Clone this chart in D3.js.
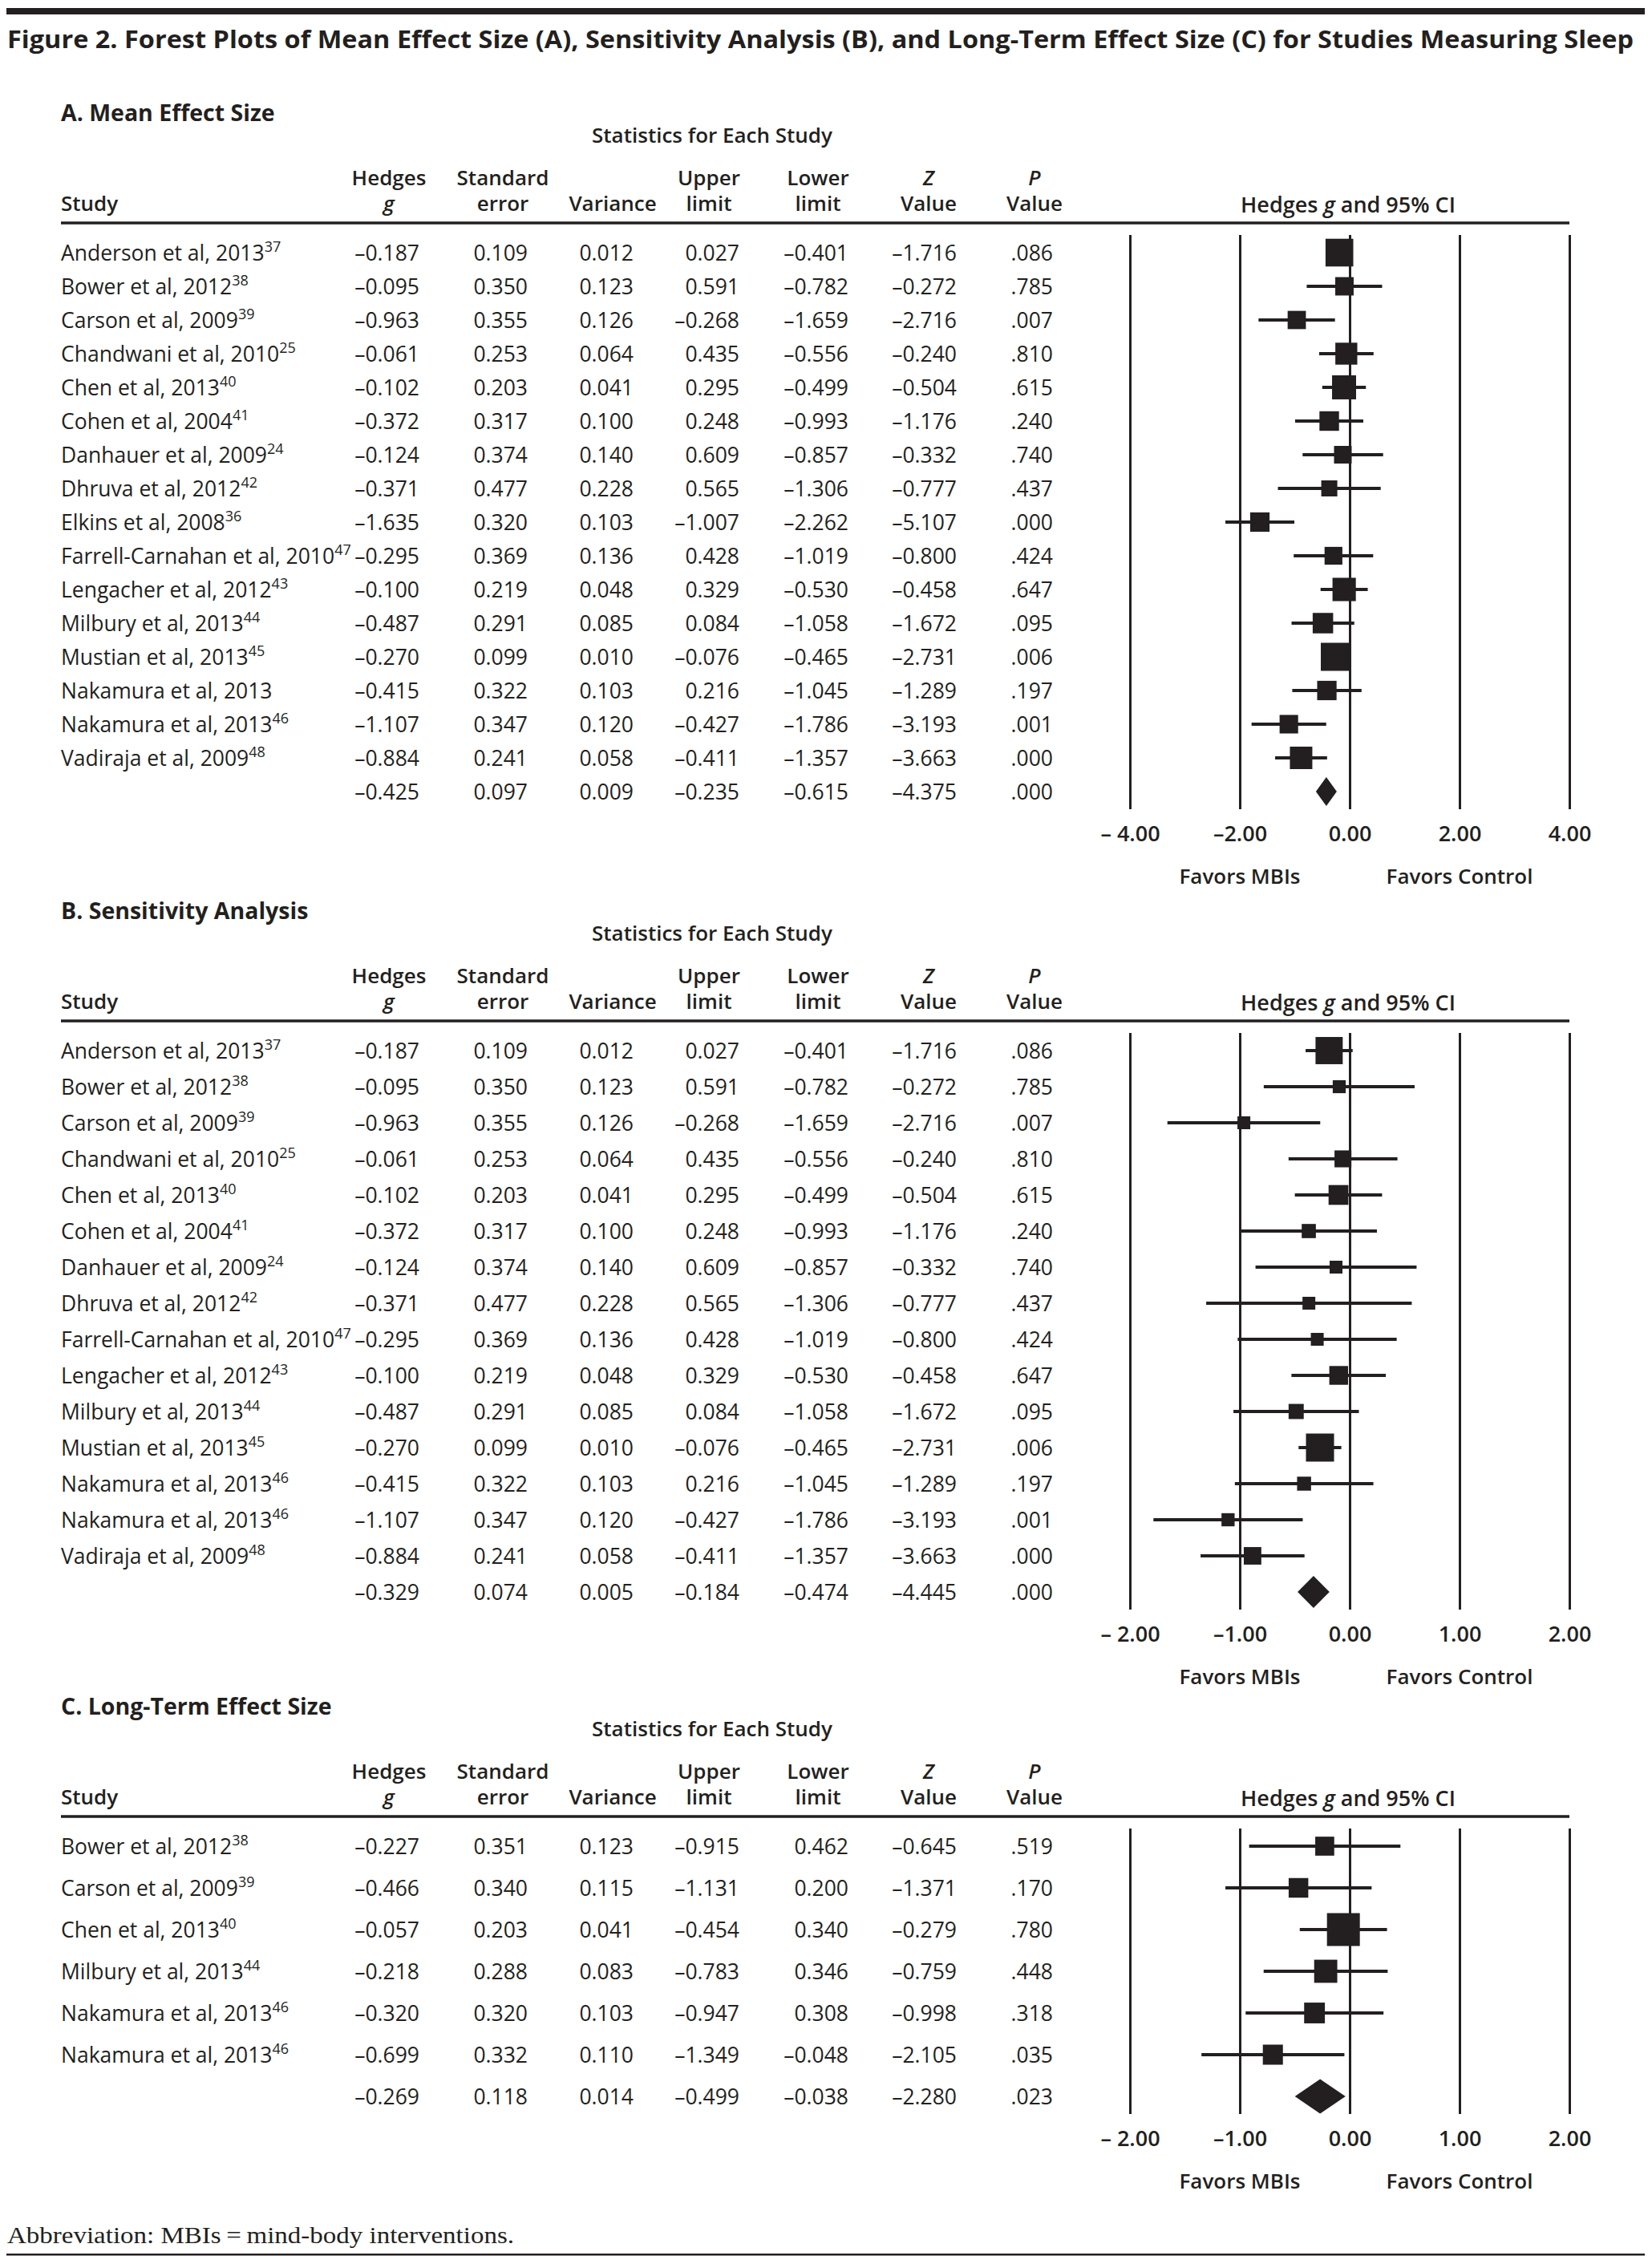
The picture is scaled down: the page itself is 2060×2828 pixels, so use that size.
<!DOCTYPE html>
<html><head><meta charset="utf-8">
<script src="https://cdn.jsdelivr.net/npm/d3@7"></script>
<style>
html,body{margin:0;padding:0;background:#fff;}
svg{display:block;}
</style></head><body>
<svg id="chart" width="2060" height="2828"></svg>
<script>
// ---------------- DATA ----------------
const figureTitle = "Figure 2. Forest Plots of Mean Effect Size (A), Sensitivity Analysis (B), and Long-Term Effect Size (C) for Studies Measuring Sleep";
const footnote = "Abbreviation: MBIs\u2009=\u2009mind-body interventions.";
const favorsLabels = ["Favors MBIs", "Favors Control"];

// Panel A: Mean effect size (last entry of each value array = summary row)
const studiesA = ["Anderson et al, 2013","Bower et al, 2012","Carson et al, 2009","Chandwani et al, 2010","Chen et al, 2013","Cohen et al, 2004","Danhauer et al, 2009","Dhruva et al, 2012","Elkins et al, 2008","Farrell-Carnahan et al, 2010","Lengacher et al, 2012","Milbury et al, 2013","Mustian et al, 2013","Nakamura et al, 2013","Nakamura et al, 2013","Vadiraja et al, 2009"];
const refsA = ["37","38","39","25","40","41","24","42","36","47","43","44","45","","46","48"];
const gA     = [-0.187,-0.095,-0.963,-0.061,-0.102,-0.372,-0.124,-0.371,-1.635,-0.295,-0.100,-0.487,-0.270,-0.415,-1.107,-0.884,-0.425];
const seA    = [0.109,0.350,0.355,0.253,0.203,0.317,0.374,0.477,0.320,0.369,0.219,0.291,0.099,0.322,0.347,0.241,0.097];
const varA   = [0.012,0.123,0.126,0.064,0.041,0.100,0.140,0.228,0.103,0.136,0.048,0.085,0.010,0.103,0.120,0.058,0.009];
const upperA = [0.027,0.591,-0.268,0.435,0.295,0.248,0.609,0.565,-1.007,0.428,0.329,0.084,-0.076,0.216,-0.427,-0.411,-0.235];
const lowerA = [-0.401,-0.782,-1.659,-0.556,-0.499,-0.993,-0.857,-1.306,-2.262,-1.019,-0.530,-1.058,-0.465,-1.045,-1.786,-1.357,-0.615];
const zA     = [-1.716,-0.272,-2.716,-0.240,-0.504,-1.176,-0.332,-0.777,-5.107,-0.800,-0.458,-1.672,-2.731,-1.289,-3.193,-3.663,-4.375];
const pA     = [0.086,0.785,0.007,0.810,0.615,0.240,0.740,0.437,0.000,0.424,0.647,0.095,0.006,0.197,0.001,0.000,0.000];
const ticksA = [-4,-2,0,2,4];
const tickLabelsA = ["\u2013 4.00","\u20132.00","0.00","2.00","4.00"];

// Panel B: Sensitivity analysis
const studiesB = ["Anderson et al, 2013","Bower et al, 2012","Carson et al, 2009","Chandwani et al, 2010","Chen et al, 2013","Cohen et al, 2004","Danhauer et al, 2009","Dhruva et al, 2012","Farrell-Carnahan et al, 2010","Lengacher et al, 2012","Milbury et al, 2013","Mustian et al, 2013","Nakamura et al, 2013","Nakamura et al, 2013","Vadiraja et al, 2009"];
const refsB = ["37","38","39","25","40","41","24","42","47","43","44","45","46","46","48"];
const gB     = [-0.187,-0.095,-0.963,-0.061,-0.102,-0.372,-0.124,-0.371,-0.295,-0.100,-0.487,-0.270,-0.415,-1.107,-0.884,-0.329];
const seB    = [0.109,0.350,0.355,0.253,0.203,0.317,0.374,0.477,0.369,0.219,0.291,0.099,0.322,0.347,0.241,0.074];
const varB   = [0.012,0.123,0.126,0.064,0.041,0.100,0.140,0.228,0.136,0.048,0.085,0.010,0.103,0.120,0.058,0.005];
const upperB = [0.027,0.591,-0.268,0.435,0.295,0.248,0.609,0.565,0.428,0.329,0.084,-0.076,0.216,-0.427,-0.411,-0.184];
const lowerB = [-0.401,-0.782,-1.659,-0.556,-0.499,-0.993,-0.857,-1.306,-1.019,-0.530,-1.058,-0.465,-1.045,-1.786,-1.357,-0.474];
const zB     = [-1.716,-0.272,-2.716,-0.240,-0.504,-1.176,-0.332,-0.777,-0.800,-0.458,-1.672,-2.731,-1.289,-3.193,-3.663,-4.445];
const pB     = [0.086,0.785,0.007,0.810,0.615,0.240,0.740,0.437,0.424,0.647,0.095,0.006,0.197,0.001,0.000,0.000];
const ticksB = [-2,-1,0,1,2];
const tickLabelsB = ["\u2013 2.00","\u20131.00","0.00","1.00","2.00"];

// Panel C: Long-term effect size
const studiesC = ["Bower et al, 2012","Carson et al, 2009","Chen et al, 2013","Milbury et al, 2013","Nakamura et al, 2013","Nakamura et al, 2013"];
const refsC = ["38","39","40","44","46","46"];
const gC     = [-0.227,-0.466,-0.057,-0.218,-0.320,-0.699,-0.269];
const seC    = [0.351,0.340,0.203,0.288,0.320,0.332,0.118];
const varC   = [0.123,0.115,0.041,0.083,0.103,0.110,0.014];
const upperC = [-0.915,-1.131,-0.454,-0.783,-0.947,-1.349,-0.499];
const lowerC = [0.462,0.200,0.340,0.346,0.308,-0.048,-0.038];
const zC     = [-0.645,-1.371,-0.279,-0.759,-0.998,-2.105,-2.280];
const pC     = [0.519,0.170,0.780,0.448,0.318,0.035,0.023];
const ticksC = [-2,-1,0,1,2];
const tickLabelsC = ["\u2013 2.00","\u20131.00","0.00","1.00","2.00"];

const panelTitles = ["A. Mean Effect Size","B. Sensitivity Analysis","C. Long-Term Effect Size"];
const statsHeader = "Statistics for Each Study";

// ---------------- LAYOUT / STYLE ----------------
const INK = "#231f20";
const FONT = "'Open Sans', 'Noto Sans', sans-serif";
const svg = d3.select("#chart");
const TABLE_L = 76, PLOT_L = 1409, PLOT_R = 1957;
const colRight = [523, 658, 790, 922, 1058, 1193, 1313];
const colCenter = [485, 627, 764, 884, 1020, 1158, 1290];
const BODY = 26.5;

const fmt3 = d => d3.format(".3f")(d).replace(/[\u2212-]/, "\u2013");
const fmtP = d => d3.format(".3f")(d).replace(/^0/, "");

// top rule + title
svg.append("rect").attr("x", 8).attr("y", 10).attr("width", 2043).attr("height", 8).attr("fill", INK);
svg.append("text").attr("x", 9).attr("y", 60)
  .attr("font-family", FONT).attr("font-weight", 700).attr("font-size", 31).attr("fill", INK)
  .attr("textLength", 2028).attr("lengthAdjust", "spacingAndGlyphs")
  .text(figureTitle);

function dlTau2(g, v) {
  const w = v.map(d => 1 / d);
  const W = d3.sum(w);
  const m = d3.sum(g, (d, i) => w[i] * d) / W;
  const Q = d3.sum(g, (d, i) => w[i] * (d - m) * (d - m));
  const C = W - d3.sum(w, d => d * d) / W;
  return Math.max(0, (Q - (g.length - 1)) / C);
}

function drawPanel(cfg) {
  const n = cfg.studies.length;
  const g = svg.append("g");
  const U = cfg.underlineY;
  const y = d3.scalePoint().domain(d3.range(n + 1)).range([cfg.firstRowY, cfg.firstRowY + n * cfg.step]);
  const x = d3.scaleLinear().domain([cfg.ticks[0], cfg.ticks[cfg.ticks.length - 1]]).range([PLOT_L, PLOT_R]);

  const txt = (sel) => sel.attr("font-family", FONT).attr("fill", INK);

  // panel title, headers
  g.append("text").call(txt).attr("x", TABLE_L).attr("y", U - 127).attr("font-size", 28.5).attr("font-weight", 700).text(cfg.title);
  g.append("text").call(txt).attr("x", 888).attr("y", U - 100).attr("text-anchor", "middle").attr("font-size", 26).attr("font-weight", 600).text(statsHeader);

  const hdr1 = ["Hedges", "Standard", "", "Upper", "Lower", "Z", "P"];
  const hdr2 = ["g", "error", "Variance", "limit", "limit", "Value", "Value"];
  const ital1 = [false, false, false, false, false, true, true];
  const ital2 = [true, false, false, false, false, false, false];
  hdr1.forEach((h, i) => {
    if (!h) return;
    g.append("text").call(txt).attr("x", colCenter[i]).attr("y", U - 47).attr("text-anchor", "middle")
      .attr("font-size", 26).attr("font-weight", 600).attr("font-style", ital1[i] ? "italic" : "normal").text(h);
  });
  hdr2.forEach((h, i) => {
    g.append("text").call(txt).attr("x", colCenter[i]).attr("y", U - 15).attr("text-anchor", "middle")
      .attr("font-size", 26).attr("font-weight", 600).attr("font-style", ital2[i] ? "italic" : "normal").text(h);
  });
  g.append("text").call(txt).attr("x", TABLE_L).attr("y", U - 15).attr("font-size", 26).attr("font-weight", 600).text("Study");
  const ci = g.append("text").call(txt).attr("x", (PLOT_L + PLOT_R) / 2 - 2).attr("y", U - 13).attr("text-anchor", "middle")
    .attr("font-size", 27).attr("font-weight", 600);
  ci.append("tspan").text("Hedges ");
  ci.append("tspan").attr("font-style", "italic").text("g");
  ci.append("tspan").text(" and 95% CI");

  g.append("line").attr("x1", TABLE_L).attr("x2", PLOT_R).attr("y1", U).attr("y2", U)
    .attr("stroke", INK).attr("stroke-width", 3.5);

  // study names with superscript refs
  const names = g.selectAll("text.study").data(cfg.studies).join("text").attr("class", "study").call(txt)
    .attr("x", TABLE_L).attr("y", (d, i) => y(i) + 10).attr("font-size", BODY);
  names.append("tspan").text(d => d);
  names.append("tspan").attr("dy", -11).attr("font-size", 18).text((d, i) => cfg.refs[i]);

  // numeric columns
  const cols = [
    cfg.g.map(fmt3), cfg.se.map(fmt3), cfg.variance.map(fmt3), cfg.upper.map(fmt3),
    cfg.lower.map(fmt3), cfg.z.map(fmt3), cfg.p.map(fmtP)
  ];
  cols.forEach((vals, ci2) => {
    g.selectAll(null).data(vals).join("text").call(txt)
      .attr("x", colRight[ci2]).attr("y", (d, i) => y(i) + 10).attr("text-anchor", "end").attr("font-size", BODY)
      .text(d => d);
  });

  // forest plot axis/gridlines
  const lineTop = U + 15, lineBottom = y(n) + 22;
  const axis = d3.axisBottom(x).tickValues(cfg.ticks).tickSize(-(lineBottom - lineTop)).tickPadding(21)
    .tickFormat((d, i) => cfg.tickLabels[i]);
  const ag = g.append("g").attr("transform", `translate(0,${lineBottom})`).call(axis)
    .attr("font-family", FONT).attr("font-size", 27).attr("font-weight", 600);
  ag.select(".domain").remove();
  ag.selectAll(".tick line").attr("stroke", INK).attr("stroke-width", 3);
  ag.selectAll(".tick text").attr("fill", INK);

  favorsLabels.forEach((lab, i) => {
    g.append("text").call(txt).attr("x", x(cfg.favorsAt[i])).attr("y", lineBottom + 93).attr("text-anchor", "middle")
      .attr("font-size", 26).attr("font-weight", 600).text(lab);
  });

  // weights -> square size
  const gs = cfg.g.slice(0, n), vs = cfg.variance.slice(0, n);
  const tau2 = dlTau2(gs, vs);
  const w = vs.map(v => 1 / (v + tau2));
  const side = d3.scaleSqrt().domain([0, d3.max(w)]).range([0, cfg.maxSide]);

  const rows = d3.range(n).map(i => ({
    i, g: cfg.g[i], lo: Math.min(cfg.upper[i], cfg.lower[i]), hi: Math.max(cfg.upper[i], cfg.lower[i]),
    s: Math.max(cfg.minSide, side(w[i]))
  }));
  g.selectAll("line.ci").data(rows).join("line").attr("class", "ci")
    .attr("x1", d => x(d.lo)).attr("x2", d => x(d.hi)).attr("y1", d => y(d.i)).attr("y2", d => y(d.i))
    .attr("stroke", INK).attr("stroke-width", 4);
  g.selectAll("rect.box").data(rows).join("rect").attr("class", "box")
    .attr("x", d => x(d.g) - d.s / 2).attr("y", d => y(d.i) - d.s / 2)
    .attr("width", d => d.s).attr("height", d => d.s).attr("fill", INK);

  // summary diamond
  const sg = cfg.g[n], slo = Math.min(cfg.upper[n], cfg.lower[n]), shi = Math.max(cfg.upper[n], cfg.lower[n]);
  const sy = y(n), h = cfg.diamondH / 2;
  g.append("path").attr("fill", INK)
    .attr("d", `M${x(slo)},${sy}L${x(sg)},${sy - h}L${x(shi)},${sy}L${x(sg)},${sy + h}Z`);
}

drawPanel({ title: panelTitles[0], underlineY: 278, firstRowY: 315, step: 42,
  studies: studiesA, refs: refsA, g: gA, se: seA, variance: varA, upper: upperA, lower: lowerA, z: zA, p: pA,
  ticks: ticksA, tickLabels: tickLabelsA, favorsAt: [ticksA[1], ticksA[3]], maxSide: 35, minSide: 20, diamondH: 36 });
drawPanel({ title: panelTitles[1], underlineY: 1273, firstRowY: 1310, step: 45,
  studies: studiesB, refs: refsB, g: gB, se: seB, variance: varB, upper: upperB, lower: lowerB, z: zB, p: pB,
  ticks: ticksB, tickLabels: tickLabelsB, favorsAt: [ticksB[1], ticksB[3]], maxSide: 35, minSide: 16, diamondH: 40 });
drawPanel({ title: panelTitles[2], underlineY: 2265, firstRowY: 2302, step: 52,
  studies: studiesC, refs: refsC, g: gC, se: seC, variance: varC, upper: upperC, lower: lowerC, z: zC, p: pC,
  ticks: ticksC, tickLabels: tickLabelsC, favorsAt: [ticksC[1], ticksC[3]], maxSide: 41, minSide: 16, diamondH: 43 });

// footnote + bottom rule
svg.append("text").attr("x", 9).attr("y", 2797)
  .attr("font-family", "'Liberation Serif', 'DejaVu Serif', serif").attr("font-size", 29).attr("fill", INK)
  .attr("textLength", 632).attr("lengthAdjust", "spacingAndGlyphs").text(footnote);
svg.append("rect").attr("x", 8).attr("y", 2810).attr("width", 2043).attr("height", 2.5).attr("fill", INK);
</script>
</body></html>
